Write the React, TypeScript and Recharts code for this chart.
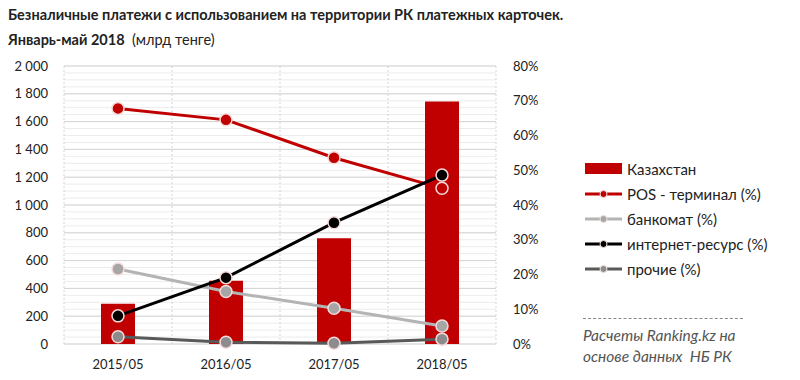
import { ComposedChart, Bar, Line, XAxis, YAxis, CartesianGrid } from "recharts";

const categories = ["2015/05", "2016/05", "2017/05", "2018/05"];
const kazakhstan = [290, 455, 760, 1745];
const pos = [67.8, 64.5, 53.6, 44.8];
const atm = [21.6, 15.1, 10.3, 5.2];
const internet = [8.1, 19.1, 34.9, 48.6];
const other = [2.1, 0.5, 0.2, 1.4];

const leftTicks = [0, 200, 400, 600, 800, 1000, 1200, 1400, 1600, 1800, 2000];
const minorTicks = Array.from({ length: 41 }, (_, i) => i * 50);
const rightTicks = [0, 10, 20, 30, 40, 50, 60, 70, 80];

const data = categories.map((name, i) => ({
  name,
  kz: kazakhstan[i],
  pos: pos[i],
  atm: atm[i],
  internet: internet[i],
  other: other[i],
}));

const lines = [
  { key: "pos", label: "POS - терминал (%)", color: "#c00000", dot: "#c00000" },
  { key: "atm", label: "банкомат (%)", color: "#b4b4b4", dot: "#a6a6a6" },
  { key: "internet", label: "интернет-ресурс (%)", color: "#000000", dot: "#000000" },
  { key: "other", label: "прочие (%)", color: "#595959", dot: "#8c8c8c" },
];

const font = "Lato, 'Open Sans', sans-serif";
const fmtThousands = (v: number) => v.toLocaleString("en-US").replace(/,/g, " ");

const vGen = ({ offset }: any) =>
  [0, 1, 2, 3, 4].map((i) => offset.left + (i * offset.width) / 4);

function LegendBox() {
  return (
    <div style={{ position: "absolute", left: 585, top: 156, fontFamily: font, fontSize: 15, color: "#222" }}>
      <div style={{ display: "flex", alignItems: "center", height: 25 }}>
        <div style={{ width: 37, height: 11, background: "#c00000", marginRight: 5 }} />
        Казахстан
      </div>
      {lines.map((l) => (
        <div key={l.key} style={{ display: "flex", alignItems: "center", height: 25 }}>
          <svg width={37} height={10} style={{ marginRight: 5 }}>
            <line x1={0} x2={37} y1={5} y2={5} stroke={l.color} strokeWidth={3} />
            <circle cx={18.5} cy={5} r={3.5} fill={l.dot} stroke="#f0e0e0" strokeWidth={1} />
          </svg>
          {l.label}
        </div>
      ))}
    </div>
  );
}

export default function App() {
  return (
    <div style={{ position: "absolute", left: 0, top: 0, width: 800, height: 380, background: "#fff", fontFamily: font }}>
      <div style={{ position: "absolute", left: 8, top: 2, fontSize: 14.5, lineHeight: "25px", color: "#222" }}>
        <div style={{ fontWeight: 700 }}>
          Безналичные платежи с использованием на территории РК платежных карточек.
        </div>
        <div>
          <b>Январь-май 2018</b>&nbsp;&nbsp;(млрд тенге)
        </div>
      </div>

      <ComposedChart
        width={800}
        height={380}
        data={data}
        margin={{ top: 66, right: 244, bottom: 0, left: 0 }}
        style={{ position: "absolute", left: 0, top: 0 }}
      >
        <CartesianGrid yAxisId="left" horizontalValues={minorTicks} vertical={false} stroke="#ececec" />
        <CartesianGrid yAxisId="left" horizontalValues={leftTicks} vertical={false} stroke="#d4d4d4" />
        <CartesianGrid
          yAxisId="left"
          horizontal={false}
          verticalCoordinatesGenerator={vGen}
          stroke="#d4d4d4"
          strokeDasharray="2 2"
        />
        <XAxis
          dataKey="name"
          axisLine={false}
          tickLine={false}
          height={36}
          tickMargin={10}
          interval={0}
          tick={{ fontSize: 13, fill: "#222", fontFamily: font }}
        />
        <YAxis
          yAxisId="left"
          domain={[0, 2000]}
          ticks={leftTicks}
          interval={0}
          width={64}
          axisLine={false}
          tickLine={false}
          tickSize={0}
          tickMargin={16}
          tickFormatter={fmtThousands}
          tick={{ fontSize: 13, fill: "#222", fontFamily: font }}
        />
        <YAxis
          yAxisId="right"
          orientation="right"
          domain={[0, 80]}
          ticks={rightTicks}
          interval={0}
          width={60}
          axisLine={false}
          tickLine={false}
          tickSize={0}
          tickMargin={17}
          tickFormatter={(v: number) => `${v}%`}
          tick={{ fontSize: 13, fill: "#222", fontFamily: font }}
        />
        <Bar yAxisId="left" dataKey="kz" name="Казахстан" fill="#c00000" barSize={34} isAnimationActive={false} />
        {lines.map((l) => (
          <Line
            key={l.key}
            yAxisId="right"
            dataKey={l.key}
            name={l.label}
            stroke={l.color}
            strokeWidth={3}
            dot={{ r: 6, fill: l.dot, stroke: "#f6dada", strokeWidth: 1.5 }}
            activeDot={false}
            isAnimationActive={false}
          />
        ))}
      </ComposedChart>

      <LegendBox />

      <div
        style={{
          position: "absolute",
          left: 583,
          top: 318,
          width: 160,
          borderTop: "1px dashed #888",
        }}
      />
      <div
        style={{
          position: "absolute",
          left: 583,
          top: 325,
          fontSize: 15.5,
          lineHeight: "21px",
          fontStyle: "italic",
          color: "#555",
        }}
      >
        Расчеты Ranking.kz на
        <br />
        основе данных&nbsp; НБ РК
      </div>
    </div>
  );
}
